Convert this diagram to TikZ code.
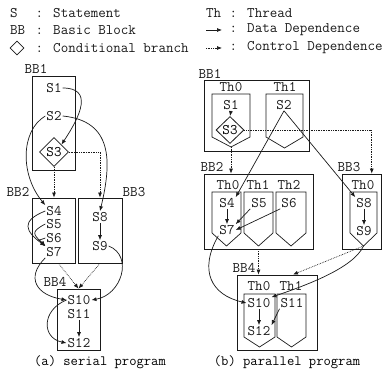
\documentclass[tikz,border=0pt]{standalone}
\usepackage{tikz}
\usepackage{xcolor}
\usetikzlibrary{
    positioning,
    calc,
    shapes.geometric,
    arrows.meta
}
\definecolor{TintaPreta}{HTML}{1A1A1A}
\newcommand{\stmtfont}{\ttfamily\fontsize{14.6}{17}\selectfont}
\newcommand{\capfont}{\ttfamily\fontsize{14.2}{17}\selectfont}
% thread outline: left, right, top, side end, tip
\newcommand{\threadshape}[5]{%
    \draw[threadline] (#1,#3) -- (#2,#3) -- (#2,#4) -- ({(#1+#2)/2},#5) -- (#1,#4) -- cycle;}

\tikzset{
    stmt/.style={inner sep=1pt, font=\stmtfont, text=TintaPreta},
    bblabel/.style={inner sep=0pt, font=\stmtfont, text=TintaPreta},
    blockbox/.style={draw=TintaPreta, line width=0.8pt},
    threadline/.style={draw=TintaPreta, line width=0.7pt},
    condnode/.style={diamond, draw=TintaPreta, line width=0.8pt, inner sep=0pt,
        font=\stmtfont, minimum width=29pt, minimum height=29pt},
    dataarrow/.style={-{Latex[length=5pt,width=4pt]}, line width=0.7pt, draw=TintaPreta},
    ctrlarrow/.style={dataarrow, densely dotted}
}

\begin{document}
\begin{tikzpicture}[x=1pt,y=1pt]
\useasboundingbox (0,0) rectangle (382,369);

% legend
\node[bblabel, anchor=west] (keyS) at (10,356) {S};
\node[bblabel, anchor=west] (descS) at (35.5,356) {: Statement};
\node[bblabel, anchor=west] (keyBB) at (10,339) {BB};
\node[bblabel, anchor=west] (descBB) at (35.5,339) {: Basic Block};
\node[diamond, draw=TintaPreta, line width=0.8pt, inner sep=0pt,
    minimum width=14pt, minimum height=14pt] (keyCond) at (17,321) {};
\node[bblabel, anchor=west] (descCond) at (35.5,321) {: Conditional branch};
\node[bblabel, anchor=west] (keyTh) at (206,356) {Th};
\node[bblabel, anchor=west] (descTh) at (229.5,356) {: Thread};
\coordinate (dataA) at (206,339);
\coordinate (dataB) at (222,339);
\draw[dataarrow] (dataA) -- (dataB);
\node[bblabel, anchor=west] (descData) at (229.5,339) {: Data Dependence};
\coordinate (ctrlA) at (206,321);
\coordinate (ctrlB) at (222,321);
\draw[ctrlarrow] (ctrlA) -- (ctrlB);
\node[bblabel, anchor=west] (descCtrl) at (229.5,321) {: Control Dependence};

% (a) serial program
\node[blockbox, minimum width=43pt, minimum height=94pt] (bbaA) at (53.5,246) {};
\node[blockbox, minimum width=43pt, minimum height=65pt] (bbaB) at (53.5,138.5) {};
\node[blockbox, minimum width=44pt, minimum height=65pt] (bbaC) at (100,138.5) {};
\node[blockbox, minimum width=43pt, minimum height=61pt] (bbaD) at (78.5,49.5) {};
\node[bblabel] (labaA) at (36,300) {BB1};
\node[bblabel] (labaB) at (18,177) {BB2};
\node[bblabel] (labaC) at (134,177) {BB3};
\node[bblabel] (labaD) at (55,87) {BB4};

\node[stmt] (s1a) at (54,281) {S1};
\node[stmt] (s2a) at (54,253) {S2};
\node[condnode] (s3a) at (54,217) {S3};
\node[stmt] (s4a) at (54,158) {S4};
\node[stmt] (s5a) at (54,145) {S5};
\node[stmt] (s6a) at (54,131) {S6};
\node[stmt] (s7a) at (54,117) {S7};
\node[stmt] (s8a) at (100,152) {S8};
\node[stmt] (s9a) at (100,123) {S9};
\node[stmt] (s10a) at (79,69) {S10};
\node[stmt] (s11a) at (79,55) {S11};
\node[stmt] (s12a) at (79,26) {S12};

\draw[dataarrow] (s1a.east) .. controls +(30,0) and +(20,30) .. (s3a.north east);
\draw[dataarrow] (s2a.west) .. controls +(-25,-15) and +(-25,30) .. (s4a.north west);
\draw[dataarrow] (s2a.east) .. controls +(50,-5) and +(12,50) .. (s8a.north);
\draw[ctrlarrow] (s3a.south) -- (s3a.south |- bbaB.north);
\draw[ctrlarrow] (s3a.east) -| (bbaC.north);
\draw[dataarrow] (s4a.west) .. controls +(-25,-10) and +(-20,15) .. (s7a.north west);
\draw[dataarrow] (s5a.west) .. controls +(-15,-8) and +(-12,12) .. (s7a.north west);
\draw[dataarrow] (s6a.west) .. controls +(-10,-4) and +(-7,8) .. (s7a.north west);
\draw[dataarrow] (s8a.south) -- (s9a.north);
\draw[dataarrow] (s7a.south west) .. controls +(-20,-20) and +(-30,5) .. (s10a.west);
\draw[dataarrow] (s9a.east) .. controls +(25,-10) and +(30,5) .. (s10a.east);
\draw[ctrlarrow] ([xshift=5pt]bbaB.south) -- (bbaD.north);
\draw[ctrlarrow] (bbaC.south) -- (bbaD.north);
\draw[dataarrow] (s10a.west) .. controls +(-25,-10) and +(-25,5) .. (s12a.west);
\draw[dataarrow] (s11a.south) -- (s12a.north);

\node[inner sep=0pt, font=\capfont] (capA) at (100,7) {(a) serial program};

% (b) parallel program
\node[blockbox, minimum width=105pt, minimum height=71pt] (bbbA) at (256.5,253.5) {};
\node[blockbox, minimum width=109pt, minimum height=75pt] (bbbB) at (258.5,157.5) {};
\node[blockbox, minimum width=39.5pt, minimum height=75pt] (bbbC) at (361.75,157.5) {};
\node[blockbox, minimum width=80pt, minimum height=75pt] (bbbD) at (277,56.5) {};
\node[bblabel] (labbA) at (210,295) {BB1};
\node[bblabel] (labbB) at (212,202) {BB2};
\node[bblabel] (labbC) at (349,202) {BB3};
\node[bblabel] (labbD) at (244,101) {BB4};

\threadshape{212}{250}{275}{232}{222}
\threadshape{266}{303}{275}{232}{221}
\threadshape{212}{241}{177}{136}{123}
\threadshape{244}{273}{177}{136}{123}
\threadshape{276}{306}{177}{136}{123}
\threadshape{350}{377}{177}{136}{123}
\threadshape{244}{275}{75}{32}{22}
\threadshape{277}{306}{75}{32}{22}
\coordinate (tipbA) at (231,222);
\coordinate (tipbC) at (363.5,123);

\node[bblabel] (thAa) at (231,282) {Th0};
\node[bblabel] (thAb) at (285,282) {Th1};
\node[bblabel] (thBa) at (228,184) {Th0};
\node[bblabel] (thBb) at (258,184) {Th1};
\node[bblabel] (thBc) at (289,184) {Th2};
\node[bblabel] (thCa) at (363,184) {Th0};
\node[bblabel] (thDa) at (259,83) {Th0};
\node[bblabel] (thDb) at (291,83) {Th1};

\node[stmt] (s1b) at (231,264) {S1};
\node[stmt] (s2b) at (284,264) {S2};
\node[condnode, minimum width=28pt, minimum height=27pt] (s3b) at (230,239) {S3};
\node[stmt] (s4b) at (227,166) {S4};
\node[stmt] (s5b) at (259,166) {S5};
\node[stmt] (s6b) at (289,166) {S6};
\node[stmt] (s7b) at (227,139) {S7};
\node[stmt] (s8b) at (364,166) {S8};
\node[stmt] (s9b) at (364,138) {S9};
\node[stmt] (s10b) at (259,66) {S10};
\node[stmt] (s11b) at (292,66) {S11};
\node[stmt] (s12b) at (259,38) {S12};

\draw[dataarrow] (s1b.south) -- (s3b.north);
\draw[dataarrow] (s2b.south) -- (s4b.north east);
\draw[dataarrow] (s2b.south) -- (s8b.north west);
\draw[ctrlarrow] (tipbA) -- (tipbA |- bbbB.north);
\draw[ctrlarrow] (s3b.east) -| ([xshift=10pt]bbbC.north);
\draw[dataarrow] (s4b.south) -- (s7b.north);
\draw[dataarrow] (s5b.south west) -- (s7b.north east);
\draw[dataarrow] (s6b.south west) -- (s7b.east);
\draw[dataarrow] (s8b.south) -- (s9b.north);
\draw[ctrlarrow] (bbbB.south) -- (bbbB.south |- bbbD.north);
\draw[dataarrow] (s7b.south west) .. controls +(-20,-35) and +(-35,8) .. (s10b.west);
\draw[dataarrow] (tipbC) .. controls +(-10,-22) and +(35,12) .. (s10b.north east);
\draw[ctrlarrow] (tipbC) -- ([xshift=16pt]bbbD.north);
\draw[dataarrow] (s10b.south) -- (s12b.north);
\draw[dataarrow] (s11b.south west) -- (s12b.north east);

\node[inner sep=0pt, font=\capfont] (capB) at (287,7) {(b) parallel program};
\end{tikzpicture}
\end{document}
